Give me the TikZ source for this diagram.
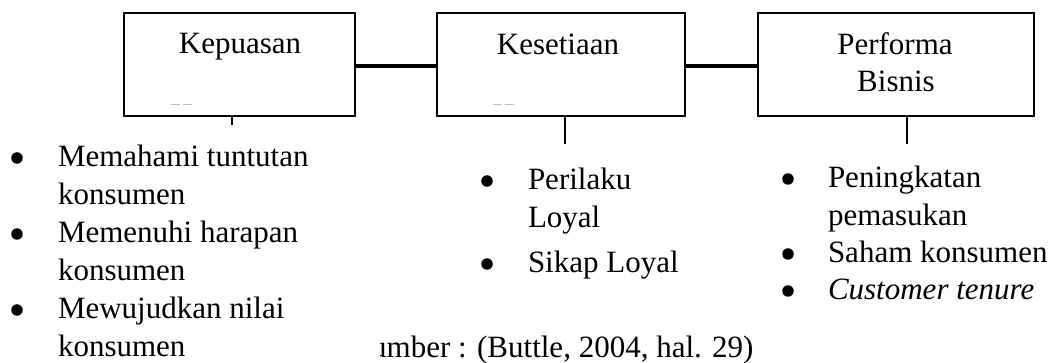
\documentclass[tikz,border=0pt]{standalone}
\usepackage{fontspec}
\setmainfont{Liberation Serif}
\begin{document}
\begin{tikzpicture}[x=1pt,y=-1pt,
  every node/.style={font=\fontsize{31}{38}\selectfont, inner sep=0pt, outer sep=0pt},
  box/.style={draw, line width=2pt, rectangle},
  link/.style={line width=4pt},
  stem/.style={line width=2pt},
  mark line/.style={line width=1pt, draw=black!25},
  item/.style={anchor=base west},
  dot/.style={circle, fill, minimum size=11.5pt},
]
\useasboundingbox (0,0) rectangle (1061,363);

% three stage boxes
\node[box, minimum width=231pt, minimum height=103pt] (kep) at (239.5,64.5) {};
\node[box, minimum width=248pt, minimum height=103pt] (kes) at (561,64.5) {};
\node[box, minimum width=276pt, minimum height=103pt] (per) at (896,64.5) {};

% box titles
\node[anchor=base] (kept) at (240,54) {Kepuasan};
\node[anchor=base] (kest) at (558,55) {Kesetiaan};
\node[anchor=base] (pert1) at (895,55) {Performa};
\node[anchor=base] (pert2) at (896,92) {Bisnis};

% faint marks near the lower left of the first two boxes
\draw[mark line] (171,105) -- (180,105) (183,105) -- (192,105);
\draw[mark line] (493,105) -- (502,105) (505,105) -- (514,105);

% links between the boxes
\draw[link] ([yshift=-2pt]kep.east) -- ([yshift=-2pt]kes.west);
\draw[link] ([yshift=-2pt]kes.east) -- ([yshift=-2pt]per.west);

% stems below the boxes
\coordinate (s1) at (231.7,125);
\coordinate (s2) at (565,144);
\coordinate (s3) at (907,144);
\draw[stem] (kep.south -| s1) -- (s1);
\draw[stem] (kes.south -| s2) -- (s2);
\draw[stem] (per.south -| s3) -- (s3);

% first list
\node[dot] (b11) at (17,158) {};
\node[item] (l11) at (58,167) {Memahami tuntutan};
\node[item] (l12) at (58,205) {konsumen};
\node[dot] (b12) at (17,234) {};
\node[item] (l13) at (58,243) {Memenuhi harapan};
\node[item] (l14) at (58,281) {konsumen};
\node[dot] (b13) at (17,310) {};
\node[item] (l15) at (58,319) {Mewujudkan nilai};
\node[item] (l16) at (58,357) {konsumen};

% second list
\node[dot] (b21) at (487,181) {};
\node[item] (l21) at (528,190) {Perilaku};
\node[item] (l22) at (528,228) {Loyal};
\node[dot] (b22) at (487,264) {};
\node[item] (l23) at (528,273) {Sikap Loyal};

% third list
\node[dot] (b31) at (788,179) {};
\node[item] (l31) at (828,188) {Peningkatan};
\node[item] (l32) at (828,226) {pemasukan};
\node[dot] (b32) at (788,254) {};
\node[item] (l33) at (828,263) {Saham konsumen};
\node[dot] (b33) at (788,291) {};
\node[item] (l34) at (828,300) {\itshape Customer tenure};

% source line, partly covered on its left
\begin{scope}
  \clip (380,320) rectangle (1061,363);
  \node[item] (src) at (354,358) {Sumber : (Buttle, 2004, hal. 29)};
\end{scope}
\end{tikzpicture}
\end{document}
